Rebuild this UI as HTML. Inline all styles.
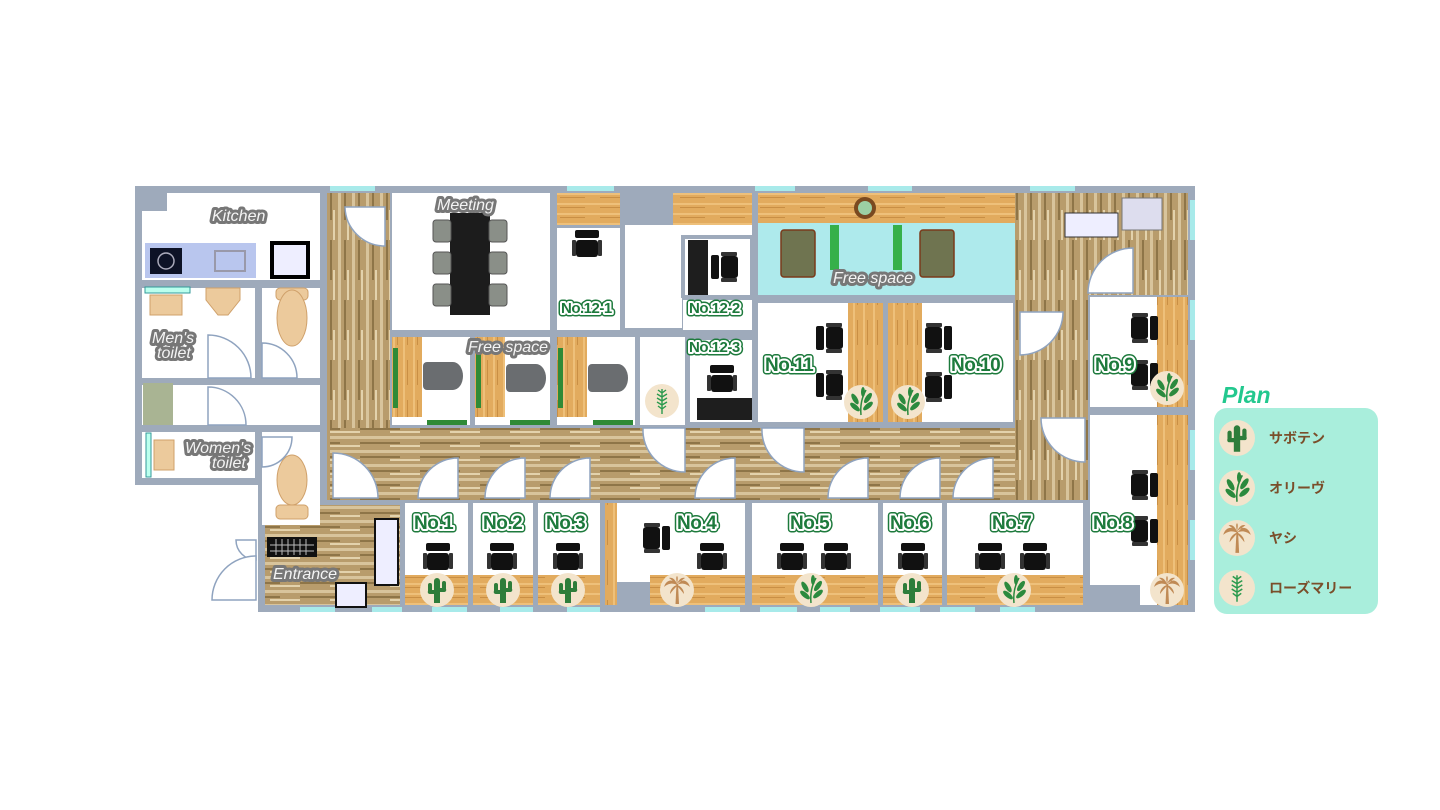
<!DOCTYPE html>
<html><head><meta charset="utf-8">
<style>
html,body{margin:0;padding:0;background:#fff;width:1440px;height:810px;overflow:hidden}
svg{display:block}
.g{font-family:"Liberation Sans","Noto Sans CJK JP",sans-serif;font-weight:bold;font-size:19px;fill:#1d7a3c;stroke:#fff;stroke-width:4px;paint-order:stroke;letter-spacing:-0.5px;stroke-linejoin:round}
.go{fill:none;stroke:#1d7a3c;stroke-width:7px}
.gs{font-size:15px}
.w{font-family:"Liberation Sans",sans-serif;font-size:16px;fill:#f4f4f4;stroke:#777;stroke-width:6px;paint-order:stroke;font-style:italic;stroke-linejoin:round}
.j{font-family:"Liberation Sans","Noto Sans CJK JP",sans-serif;font-weight:bold;font-size:14px;fill:#7a4e2a}
</style></head><body>
<svg width="1440" height="810" viewBox="0 0 1440 810" xmlns="http://www.w3.org/2000/svg">
<defs>
<pattern id="wh" width="60" height="14" patternUnits="userSpaceOnUse">
<rect width="60" height="14" fill="#b89c6c"/><rect y="2" width="60" height="3" fill="#d8c49c"/><rect y="8" width="40" height="2" fill="#8e7548"/><rect x="30" y="11" width="30" height="2" fill="#e3d2ac"/>
</pattern>
<pattern id="wv" width="14" height="60" patternUnits="userSpaceOnUse">
<rect width="14" height="60" fill="#b89c6c"/><rect x="2" width="3" height="60" fill="#d8c49c"/><rect x="8" width="2" height="40" fill="#8e7548"/><rect x="11" y="30" width="2" height="30" fill="#e3d2ac"/>
</pattern>
<pattern id="dw" width="40" height="10" patternUnits="userSpaceOnUse">
<rect width="40" height="10" fill="#e2ab5e"/><rect y="3" width="40" height="2" fill="#eec07a"/><rect y="7" width="25" height="1" fill="#c98f45"/>
</pattern>
<pattern id="dwv" width="10" height="40" patternUnits="userSpaceOnUse">
<rect width="10" height="40" fill="#e2ab5e"/><rect x="3" width="2" height="40" fill="#eec07a"/><rect x="7" height="25" width="1" fill="#c98f45"/>
</pattern>
<symbol id="cactus" viewBox="0 0 34 34"><circle cx="17" cy="17" r="17" fill="#f3e4cc"/><path d="M14 30V8a3 3 0 0 1 6 0v22zM8 18v-6a2 2 0 0 1 4 0v5h2v4H10a2 2 0 0 1-2-3zM26 16v-6a2 2 0 0 0-4 0v5h-2v4h4a2 2 0 0 0 2-3z" fill="#2e7d3a"/></symbol>
<symbol id="olive" viewBox="0 0 34 34"><circle cx="17" cy="17" r="17" fill="#f3e4cc"/><path d="M17 30C16 20 18 12 22 5" stroke="#2b8a3e" stroke-width="1.5" fill="none"/><ellipse cx="11" cy="14" rx="2.5" ry="6" transform="rotate(-30 11 14)" fill="#2b8a3e"/><ellipse cx="24" cy="13" rx="2.5" ry="6" transform="rotate(35 24 13)" fill="#2b8a3e"/><ellipse cx="11" cy="22" rx="2.5" ry="6" transform="rotate(-50 11 22)" fill="#2b8a3e"/><ellipse cx="24" cy="21" rx="2.5" ry="6" transform="rotate(50 24 21)" fill="#2b8a3e"/><ellipse cx="19" cy="7" rx="2" ry="5" fill="#2b8a3e"/></symbol>
<symbol id="palm" viewBox="0 0 34 34"><circle cx="17" cy="17" r="17" fill="#f3e4cc"/><path d="M15.5 31l1-20h1.5l1 20z" fill="#c08a55"/><path d="M17 11C12 5 6 7 4 14C9 10 13 10 17 12C21 10 25 10 30 14C28 7 22 5 17 11ZM17 11C15 6 12 4 9 5C12 7 14 9 17 12ZM17 11C19 6 22 4 25 5C22 7 20 9 17 12ZM17 11C16 6 16 4 17 3C18 4 18 6 17 11ZM17 12C13 13 10 17 10 21C13 17 15 15 17 13ZM17 12C21 13 24 17 24 21C21 17 19 15 17 13Z" fill="#c08a55"/></symbol>
<symbol id="rose" viewBox="0 0 34 34"><circle cx="17" cy="17" r="17" fill="#f3e4cc"/><path d="M17 5V30M17 9l-4-3M17 9l4-3M17 13l-5-3M17 13l5-3M17 17l-5-3M17 17l5-3M17 21l-5-3M17 21l5-3M17 25l-4-3M17 25l4-3" stroke="#2b9a4e" stroke-width="1.4" fill="none"/></symbol>
<symbol id="chair" viewBox="0 0 30 28"><rect x="3" y="0" width="24" height="8" rx="2" fill="#111"/><rect x="3" y="8" width="24" height="2" fill="#fff"/><rect x="4" y="10" width="22" height="17" rx="3" fill="#111"/><rect x="0" y="10" width="4" height="16" rx="1" fill="#333"/><rect x="26" y="10" width="4" height="16" rx="1" fill="#333"/></symbol>
<symbol id="chairs" viewBox="0 0 28 30"><rect x="0" y="3" width="8" height="24" rx="2" fill="#111"/><rect x="8" y="3" width="2" height="24" fill="#fff"/><rect x="10" y="4" width="17" height="22" rx="3" fill="#111"/><rect x="10" y="0" width="16" height="4" rx="1" fill="#333"/><rect x="10" y="26" width="16" height="4" rx="1" fill="#333"/></symbol>
</defs>

<path d="M135 186H1195V612H258V485H135Z" fill="#9eaabb"/>
<g fill="#a8eaea">
<rect x="330" y="186" width="45" height="5"/><rect x="567" y="186" width="47" height="5"/><rect x="755" y="186" width="40" height="5"/><rect x="868" y="186" width="44" height="5"/><rect x="1030" y="186" width="45" height="5"/>
<rect x="300" y="607" width="35" height="5"/><rect x="372" y="607" width="30" height="5"/><rect x="432" y="607" width="35" height="5"/><rect x="500" y="607" width="33" height="5"/><rect x="567" y="607" width="33" height="5"/><rect x="705" y="607" width="35" height="5"/><rect x="760" y="607" width="37" height="5"/><rect x="820" y="607" width="30" height="5"/><rect x="880" y="607" width="40" height="5"/><rect x="940" y="607" width="35" height="5"/><rect x="1000" y="607" width="35" height="5"/>
<rect x="1190" y="200" width="5" height="40" /><rect x="1190" y="300" width="5" height="40"/><rect x="1190" y="430" width="5" height="40"/><rect x="1190" y="520" width="5" height="40"/>
</g>

<rect x="327" y="193" width="63" height="307" fill="url(#wv)"/>
<rect x="330" y="428" width="758" height="72" fill="url(#wh)"/>
<rect x="1015" y="193" width="73" height="307" fill="url(#wv)"/>
<rect x="1088" y="193" width="100" height="102" fill="url(#wv)"/>
<rect x="265" y="505" width="135" height="100" fill="url(#wh)"/>

<rect x="142" y="193" width="178" height="87" fill="#fff"/>
<rect x="142" y="193" width="25" height="18" fill="#9eaabb"/>
<rect x="145" y="243" width="111" height="35" fill="#b9c6ee"/>
<rect x="150" y="248" width="32" height="26" fill="#0d1226"/><circle cx="166" cy="261" r="8" fill="none" stroke="#aab" stroke-width="1.5"/>
<rect x="215" y="251" width="30" height="20" fill="none" stroke="#99a" stroke-width="2"/>
<rect x="272" y="243" width="36" height="34" fill="#eef" stroke="#000" stroke-width="4"/>
<rect x="142" y="288" width="113" height="90" fill="#fff"/>
<rect x="145" y="287" width="45" height="6" fill="#bfe" stroke="#399" stroke-width="1"/>
<rect x="150" y="295" width="32" height="20" fill="#ecca9c" stroke="#cfa06a"/>
<path d="M206 288H240V300L228 315H218L206 300Z" fill="#ecca9c" stroke="#cfa06a"/>
<rect x="262" y="288" width="58" height="90" fill="#fff"/>
<rect x="276" y="288" width="32" height="12" rx="4" fill="#ecca9c" stroke="#cfa06a"/>
<ellipse cx="292" cy="318" rx="15" ry="28" fill="#ecca9c" stroke="#cfa06a"/>
<rect x="142" y="385" width="178" height="40" fill="#fff"/>
<rect x="143" y="383" width="30" height="42" fill="#a9b493"/>
<rect x="142" y="432" width="113" height="46" fill="#fff"/>
<rect x="146" y="433" width="5" height="44" fill="#bfe" stroke="#399"/>
<rect x="154" y="440" width="20" height="30" fill="#ecca9c" stroke="#cfa06a"/>
<rect x="262" y="432" width="58" height="93" fill="#fff"/>
<ellipse cx="292" cy="480" rx="15" ry="25" fill="#ecca9c" stroke="#cfa06a"/>
<rect x="276" y="505" width="32" height="14" rx="4" fill="#ecca9c" stroke="#cfa06a"/>
<rect x="267" y="537" width="50" height="20" fill="#111"/>
<g stroke="#bbb" stroke-width="1"><path d="M270 545H314M270 551H314M276 539V555M282 539V555M288 539V555M294 539V555M300 539V555M306 539V555"/></g>
<rect x="375" y="519" width="23" height="66" fill="#eef" stroke="#111" stroke-width="2"/>
<rect x="336" y="583" width="30" height="24" fill="#eef" stroke="#111" stroke-width="2"/>

<rect x="392" y="193" width="158" height="137" fill="#fff"/>
<rect x="450" y="213" width="40" height="102" fill="#1c1c1c"/>
<g fill="#8a8f88" stroke="#555" stroke-width="1">
<rect x="433" y="220" width="18" height="22" rx="3"/><rect x="433" y="252" width="18" height="22" rx="3"/><rect x="433" y="284" width="18" height="22" rx="3"/>
<rect x="489" y="220" width="18" height="22" rx="3"/><rect x="489" y="252" width="18" height="22" rx="3"/><rect x="489" y="284" width="18" height="22" rx="3"/>
</g>

<g>
<rect x="392" y="337" width="78" height="88" fill="#fff"/><rect x="392" y="337" width="30" height="80" fill="url(#dwv)"/>
<rect x="475" y="337" width="75" height="88" fill="#fff"/><rect x="475" y="337" width="30" height="80" fill="url(#dwv)"/>
<rect x="557" y="337" width="78" height="88" fill="#fff"/><rect x="557" y="337" width="30" height="80" fill="url(#dwv)"/>
<g fill="#2f8a36"><rect x="393" y="348" width="5" height="60"/><rect x="476" y="348" width="5" height="60"/><rect x="558" y="348" width="5" height="60"/>
<rect x="427" y="420" width="40" height="5"/><rect x="510" y="420" width="40" height="5"/><rect x="593" y="420" width="40" height="5"/></g>
<g fill="#6a6d70"><path d="M427 362h26a10 14 0 0 1 0 28h-26a4 4 0 0 1-4-4v-20a4 4 0 0 1 4-4z"/><path d="M510 364h26a10 14 0 0 1 0 28h-26a4 4 0 0 1-4-4v-20a4 4 0 0 1 4-4z"/><path d="M592 364h26a10 14 0 0 1 0 28h-26a4 4 0 0 1-4-4v-20a4 4 0 0 1 4-4z"/></g>
</g>

<rect x="557" y="193" width="63" height="32" fill="url(#dw)"/>
<rect x="557" y="228" width="63" height="102" fill="#fff"/>
<rect x="673" y="193" width="79" height="32" fill="url(#dw)"/>
<rect x="625" y="225" width="127" height="73" fill="#fff"/>
<rect x="683" y="237" width="69" height="60" fill="#fff" stroke="#9eaabb" stroke-width="4"/>
<rect x="688" y="240" width="20" height="55" fill="#1e1e1e"/>
<rect x="625" y="298" width="57" height="30" fill="#fff"/>
<rect x="683" y="300" width="69" height="30" fill="#fff"/>
<rect x="640" y="337" width="45" height="88" fill="#fff"/>
<rect x="690" y="340" width="62" height="82" fill="#fff"/>
<rect x="697" y="398" width="55" height="22" fill="#1e1e1e"/>
<use href="#rose" x="645" y="384" width="34" height="34"/>
<use href="#chair" x="572" y="230" width="30" height="28"/>
<use href="#chairs" x="711" y="252" width="28" height="30"/>
<use href="#chair" x="707" y="365" width="30" height="28"/>

<rect x="758" y="193" width="257" height="30" fill="url(#dw)"/>
<rect x="758" y="223" width="257" height="72" fill="#aeeaec"/>
<circle cx="865" cy="208" r="11" fill="#7a4a20"/><circle cx="865" cy="208" r="7" fill="#9cd0a4"/>
<rect x="781" y="230" width="34" height="47" rx="3" fill="#6f7450" stroke="#7a3a1a" stroke-width="1.5"/>
<rect x="920" y="230" width="34" height="47" rx="3" fill="#6f7450" stroke="#7a3a1a" stroke-width="1.5"/>
<rect x="830" y="225" width="9" height="45" fill="#36b04a"/><rect x="893" y="225" width="9" height="45" fill="#36b04a"/>

<rect x="758" y="303" width="125" height="119" fill="#fff"/><rect x="848" y="303" width="35" height="119" fill="url(#dwv)"/>
<rect x="888" y="303" width="125" height="119" fill="#fff"/><rect x="888" y="303" width="34" height="119" fill="url(#dwv)"/>
<use href="#chairs" x="816" y="323" width="28" height="30"/><use href="#chairs" x="816" y="370" width="28" height="30"/>
<g transform="translate(952 323) scale(-1 1)"><use href="#chairs" width="28" height="30"/></g>
<g transform="translate(952 372) scale(-1 1)"><use href="#chairs" width="28" height="30"/></g>
<use href="#olive" x="844" y="385" width="34" height="34"/><use href="#olive" x="891" y="385" width="34" height="34"/>

<rect x="1065" y="213" width="53" height="24" fill="#eef" stroke="#333" stroke-width="1"/>
<rect x="1122" y="198" width="40" height="32" fill="#dde" stroke="#777" stroke-width="1"/>
<rect x="1090" y="297" width="98" height="110" fill="#fff"/><rect x="1157" y="297" width="31" height="110" fill="url(#dwv)"/>
<rect x="1090" y="415" width="98" height="190" fill="#fff"/><rect x="1157" y="415" width="31" height="190" fill="url(#dwv)"/>
<rect x="1088" y="585" width="52" height="20" fill="#9eaabb"/>
<g transform="translate(1158 313) scale(-1 1)"><use href="#chairs" width="28" height="30"/></g>
<g transform="translate(1158 360) scale(-1 1)"><use href="#chairs" width="28" height="30"/></g>
<g transform="translate(1158 470) scale(-1 1)"><use href="#chairs" width="28" height="30"/></g>
<g transform="translate(1158 516) scale(-1 1)"><use href="#chairs" width="28" height="30"/></g>
<use href="#olive" x="1150" y="371" width="34" height="34"/><use href="#palm" x="1150" y="573" width="34" height="34"/>

<g>
<rect x="405" y="503" width="63" height="102" fill="#fff"/><rect x="405" y="575" width="63" height="30" fill="url(#dw)"/>
<rect x="473" y="503" width="60" height="102" fill="#fff"/><rect x="473" y="575" width="60" height="30" fill="url(#dw)"/>
<rect x="538" y="503" width="62" height="102" fill="#fff"/><rect x="538" y="575" width="62" height="30" fill="url(#dw)"/>
<rect x="605" y="503" width="140" height="102" fill="#fff"/><rect x="605" y="503" width="12" height="102" fill="url(#dwv)"/><rect x="650" y="575" width="95" height="30" fill="url(#dw)"/><rect x="617" y="582" width="33" height="23" fill="#9eaabb"/>
<rect x="752" y="503" width="126" height="102" fill="#fff"/><rect x="752" y="575" width="126" height="30" fill="url(#dw)"/>
<rect x="883" y="503" width="59" height="102" fill="#fff"/><rect x="883" y="575" width="59" height="30" fill="url(#dw)"/>
<rect x="947" y="503" width="136" height="102" fill="#fff"/><rect x="947" y="575" width="136" height="30" fill="url(#dw)"/>
</g>
<use href="#chair" x="423" y="543" width="30" height="28"/><use href="#chair" x="487" y="543" width="30" height="28"/><use href="#chair" x="553" y="543" width="30" height="28"/>
<g transform="translate(642 523) scale(-1 1) translate(-28 0)"><use href="#chairs" width="28" height="30"/></g>
<use href="#chair" x="697" y="543" width="30" height="28"/>
<use href="#chair" x="777" y="543" width="30" height="28"/><use href="#chair" x="821" y="543" width="30" height="28"/>
<use href="#chair" x="898" y="543" width="30" height="28"/>
<use href="#chair" x="975" y="543" width="30" height="28"/><use href="#chair" x="1020" y="543" width="30" height="28"/>
<use href="#cactus" x="420" y="573" width="34" height="34"/><use href="#cactus" x="486" y="573" width="34" height="34"/><use href="#cactus" x="551" y="573" width="34" height="34"/>
<use href="#palm" x="660" y="573" width="34" height="34"/><use href="#olive" x="794" y="573" width="34" height="34"/><use href="#cactus" x="895" y="573" width="34" height="34"/><use href="#olive" x="997" y="573" width="34" height="34"/>

<g fill="#fff" stroke="#8fa3bf" stroke-width="1.5">
<path d="M378 498H333V453A45 45 0 0 1 378 498Z"/>
<path d="M458 498H418A40 40 0 0 1 458 458Z"/>
<path d="M525 498H485A40 40 0 0 1 525 458Z"/>
<path d="M590 498H550A40 40 0 0 1 590 458Z"/>
<path d="M735 498H695A40 40 0 0 1 735 458Z"/>
<path d="M868 498H828A40 40 0 0 1 868 458Z"/>
<path d="M940 498H900A40 40 0 0 1 940 458Z"/>
<path d="M993 498H953A40 40 0 0 1 993 458Z"/>
<path d="M643 428H685V472A42 42 0 0 1 643 428Z"/>
<path d="M762 428H804V472A42 42 0 0 1 762 428Z"/>
<path d="M1085 418V462A44 44 0 0 1 1041 418Z"/>
<path d="M1020 312V355A43 43 0 0 0 1063 312Z"/>
<path d="M1133 248V293H1088A45 45 0 0 1 1133 248Z"/>
<path d="M345 207H385V246A40 40 0 0 1 345 207Z"/>
<path d="M208 378V335A43 43 0 0 1 251 378Z"/>
<path d="M262 378V343A35 35 0 0 1 297 378Z"/>
<path d="M208 425V387A38 38 0 0 1 246 425Z"/>
<path d="M262 437V467A30 30 0 0 0 292 437Z"/>
<path d="M256 540H236A20 20 0 0 0 256 560Z"/>
<path d="M256 600H212A44 44 0 0 1 256 556Z"/>
</g>

<text class="w" x="212" y="221">Kitchen</text>
<text class="w" x="437" y="210">Meeting</text>
<text class="w" x="152" y="343">Men's</text>
<text class="w" x="157" y="358">toilet</text>
<text class="w" x="185" y="453">Women's</text>
<text class="w" x="212" y="468">toilet</text>
<text class="w" x="273" y="579">Entrance</text>
<text class="w" x="468" y="352">Free space</text>
<text class="w" x="833" y="283">Free space</text>

<g>
<text class="g gs go" x="561" y="313">No.12-1</text><text class="g gs" x="561" y="313">No.12-1</text>
<text class="g gs go" x="689" y="313">No.12-2</text><text class="g gs" x="689" y="313">No.12-2</text>
<text class="g gs go" x="689" y="352">No.12-3</text><text class="g gs" x="689" y="352">No.12-3</text>
<text class="g go" x="765" y="371">No.11</text><text class="g" x="765" y="371">No.11</text>
<text class="g go" x="951" y="371">No.10</text><text class="g" x="951" y="371">No.10</text>
<text class="g go" x="1095" y="371">No.9</text><text class="g" x="1095" y="371">No.9</text>
<text class="g go" x="1093" y="529">No.8</text><text class="g" x="1093" y="529">No.8</text>
<text class="g go" x="414" y="529">No.1</text><text class="g" x="414" y="529">No.1</text>
<text class="g go" x="483" y="529">No.2</text><text class="g" x="483" y="529">No.2</text>
<text class="g go" x="546" y="529">No.3</text><text class="g" x="546" y="529">No.3</text>
<text class="g go" x="677" y="529">No.4</text><text class="g" x="677" y="529">No.4</text>
<text class="g go" x="790" y="529">No.5</text><text class="g" x="790" y="529">No.5</text>
<text class="g go" x="890" y="529">No.6</text><text class="g" x="890" y="529">No.6</text>
<text class="g go" x="992" y="529">No.7</text><text class="g" x="992" y="529">No.7</text>
</g>

<text x="1222" y="403" font-family="Liberation Sans,sans-serif" font-weight="bold" font-style="italic" font-size="23" fill="#22c88e">Plan</text>
<rect x="1214" y="408" width="164" height="206" rx="13" fill="#a9eedc"/>
<use href="#cactus" x="1219" y="420" width="36" height="36"/>
<use href="#olive" x="1219" y="470" width="36" height="36"/>
<use href="#palm" x="1219" y="520" width="36" height="36"/>
<use href="#rose" x="1219" y="570" width="36" height="36"/>
<text class="j" x="1269" y="443">サボテン</text>
<text class="j" x="1269" y="493">オリーヴ</text>
<text class="j" x="1269" y="543">ヤシ</text>
<text class="j" x="1269" y="593">ローズマリー</text>
</svg>
</body></html>
